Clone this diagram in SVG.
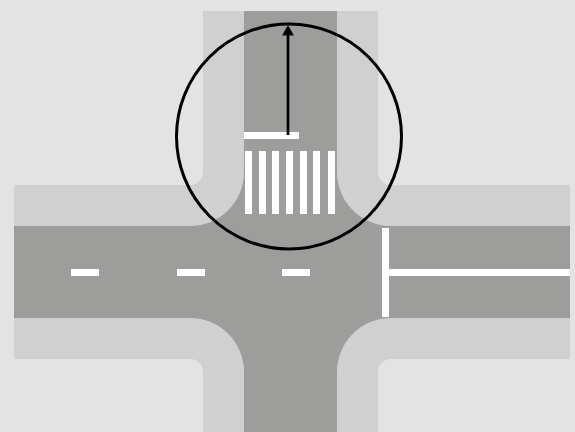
<svg xmlns="http://www.w3.org/2000/svg" width="575" height="432" viewBox="0 0 575 432">
<style>.m{fill:#fff}</style>
<rect width="575" height="432" fill="#e3e3e3"/>
<path id="sidewalk" fill="#d0d0d0" d="M203 11H378V172A13 13 0 0 0 391 185H570V359H391A13 13 0 0 0 378 372V432H203V372A13 13 0 0 0 190 359H14V185H190A13 13 0 0 0 203 172Z"/>
<path id="road" fill="#9d9d9b" d="M244 11H337V172A54 54 0 0 0 391 226H570V318H391A54 54 0 0 0 337 372V432H244V372A54 54 0 0 0 190 318H14V226H190A54 54 0 0 0 244 172Z"/>
<g id="markings">
<rect class="m" x="71" y="269" width="28" height="7"/>
<rect class="m" x="177" y="269" width="28" height="7"/>
<rect class="m" x="282" y="269" width="28" height="7"/>
<rect class="m" x="382" y="228" width="7" height="89"/>
<rect class="m" x="389" y="269" width="181" height="7"/>
<rect class="m" x="244" y="132" width="55" height="7"/>
<rect class="m" x="245" y="151" width="7" height="63"/>
<rect class="m" x="259" y="151" width="7" height="63"/>
<rect class="m" x="272" y="151" width="7" height="63"/>
<rect class="m" x="286" y="151" width="7" height="63"/>
<rect class="m" x="300" y="151" width="7" height="63"/>
<rect class="m" x="313" y="151" width="7" height="63"/>
<rect class="m" x="328" y="151" width="7" height="63"/>
</g>
<circle id="lens" cx="289" cy="136.5" r="112.5" fill="none" stroke="#000" stroke-width="3"/>
<g id="connectors">
<path d="M288 135V34" fill="none" stroke="#000" stroke-width="2.7"/>
<path d="M288 25L294 35.5H282Z" fill="#000"/>
</g>
</svg>
